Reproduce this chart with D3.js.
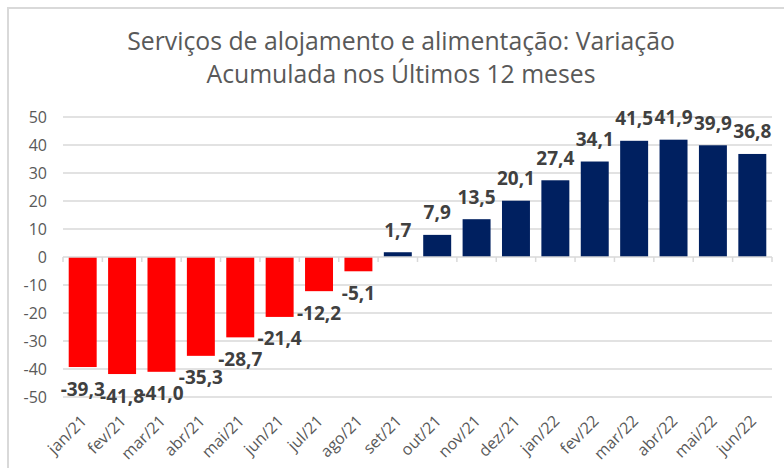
<!DOCTYPE html>
<html><head><meta charset="utf-8">
<script src="https://cdn.jsdelivr.net/npm/d3@7"></script>
<style>html,body{margin:0;padding:0;background:#fff;}svg{display:block;}</style>
</head><body>
<svg id="chart" width="784" height="468"></svg>
<script>
const categories = ["jan/21","fev/21","mar/21","abr/21","mai/21","jun/21","jul/21","ago/21","set/21","out/21","nov/21","dez/21","jan/22","fev/22","mar/22","abr/22","mai/22","jun/22"];
const values = [-39.3,-41.8,-41.0,-35.3,-28.7,-21.4,-12.2,-5.1,1.7,7.9,13.5,20.1,27.4,34.1,41.5,41.9,39.9,36.8];
const yTicks = [-50,-40,-30,-20,-10,0,10,20,30,40,50];
const titleLines = ["Serviços de alojamento e alimentação: Variação","Acumulada nos Últimos 12 meses"];

(function(){
const svg = d3.select("#chart");
const font = "'Open Sans', sans-serif";
const pLeft = 63, pRight = 772, pTop = 117, pBottom = 397;

// chart border
svg.append("rect").attr("x",8).attr("y",8).attr("width",800).attr("height",500)
  .attr("fill","none").attr("stroke","#d9d9d9").attr("stroke-width",2);

const x = d3.scaleBand().domain(categories).range([pLeft,pRight]).paddingInner(0.29).paddingOuter(0.145);
const y = d3.scaleLinear().domain([-50,50]).range([pBottom,pTop]);

// gridlines
svg.append("g").selectAll("line").data(yTicks.filter(t=>t!==0)).join("line")
  .attr("x1",pLeft).attr("x2",pRight).attr("y1",d=>y(d)).attr("y2",d=>y(d))
  .attr("stroke","#d9d9d9").attr("stroke-width",1.5);

// y axis labels
const yAxis = d3.axisLeft(y).tickValues(yTicks).tickSize(0).tickPadding(0).tickFormat(d=>String(d));
const gy = svg.append("g").attr("transform",`translate(47,0)`).call(yAxis);
gy.select(".domain").remove();
gy.selectAll("text").attr("font-family",font).attr("font-size",16).attr("fill","#595959").attr("dy","0.35em");

// bars
svg.append("g").selectAll("rect").data(values).join("rect")
  .attr("x",(d,i)=>x(categories[i]))
  .attr("width",x.bandwidth())
  .attr("y",d=>y(Math.max(0,d)))
  .attr("height",d=>Math.abs(y(d)-y(0)))
  .attr("fill",d=>d<0?"#ff0000":"#002060");

// zero axis line + ticks
svg.append("line").attr("x1",pLeft).attr("x2",pRight).attr("y1",y(0)).attr("y2",y(0))
  .attr("stroke","#d9d9d9").attr("stroke-width",1.5);
const n = categories.length;
svg.append("g").selectAll("line").data(d3.range(n+1)).join("line")
  .attr("x1",i=>pLeft+i*(pRight-pLeft)/n).attr("x2",i=>pLeft+i*(pRight-pLeft)/n)
  .attr("y1",y(0)).attr("y2",y(0)+5).attr("stroke","#d9d9d9").attr("stroke-width",1.5);

// data labels
svg.append("g").selectAll("text").data(values).join("text")
  .attr("x",(d,i)=>x(categories[i])+x.bandwidth()/2)
  .attr("y",d=>d<0? y(d)+28.5 : y(d)-15.5)
  .attr("text-anchor","middle")
  .attr("font-family",font).attr("font-weight","bold").attr("font-size",19)
  .attr("fill","#404040")
  .text(d=>d.toFixed(1).replace(".",","));

// x labels
svg.append("g").selectAll("text").data(categories).join("text")
  .attr("transform",(d)=>`translate(${x(d)+x.bandwidth()/2+5},422) rotate(-45)`)
  .attr("text-anchor","end")
  .attr("font-family",font).attr("font-size",16).attr("fill","#595959")
  .text(d=>d);

// title
const tg = svg.append("g");
titleLines.forEach((t,i)=>{
  tg.append("text").attr("x",401).attr("y",[50,83][i]).attr("text-anchor","middle")
    .attr("font-family",font).attr("font-size",21).attr("fill","#595959").text(t);
});
const w = tg.select("text").node().getComputedTextLength();
const fs = 21*548/w;
tg.selectAll("text").attr("font-size",fs);
})();
</script>
</body></html>
